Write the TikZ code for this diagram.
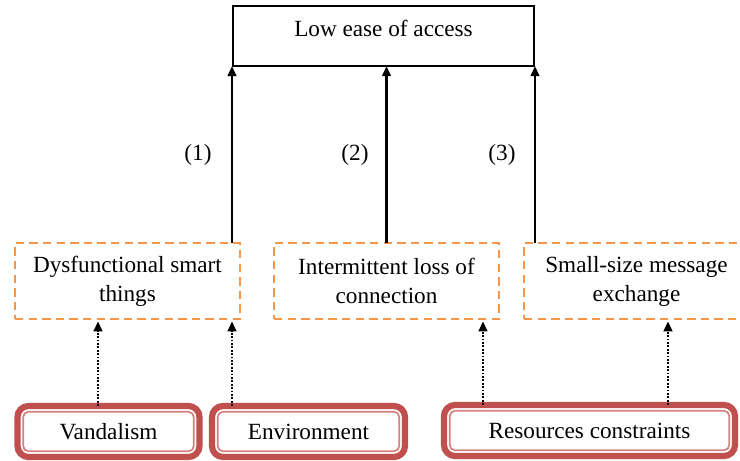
\documentclass[tikz,border=0pt]{standalone}
\usepackage{fontspec}
\setmainfont{Liberation Serif}
\usetikzlibrary{arrows.meta}
\definecolor{redc}{RGB}{192,80,77}
\definecolor{redin}{RGB}{214,128,126}
\definecolor{orangec}{RGB}{247,150,70}
\tikzset{
  txt/.style={font=\fontsize{11.6}{14.5}\selectfont, text=black, align=center, inner sep=0pt},
  goalbox/.style={txt, draw=black, line width=1.2pt, anchor=north west, outer sep=0pt,
    text height=9pt, text depth=9pt},
  causebox/.style={txt, draw=orangec, line width=1.4pt, dash pattern=on 4.2pt off 2.6pt,
    anchor=north west, outer sep=0pt, minimum width=112.5pt, minimum height=38pt},
  rootbox/.style={txt, draw=redc, line width=3.1pt, rounded corners=5.5pt, anchor=north west,
    outer sep=0pt, minimum height=25.5pt},
  rootinner/.style={draw=redin, line width=0.85pt, rounded corners=2.5pt},
  leads/.style={line width=1.2pt, -{Triangle[length=5pt,width=4.2pt]}},
  feeds/.style={line width=1.1pt, dash pattern=on 0.9pt off 0.8pt,
    -{Triangle[length=5pt,width=4.4pt]}, shorten >=1.2pt},
  num/.style={txt}
}
\begin{document}
\begin{tikzpicture}[x=0.5pt,y=-0.5pt]
  \useasboundingbox (0,0) rectangle (740,461);
  \clip (0,0) rectangle (740,461);

  % effect
  \node[goalbox, minimum width=150.5pt, minimum height=30pt] (goal) at (233,6) {Low ease of access};

  % intermediate causes
  \node[causebox] (c1) at (15,243) {Dysfunctional smart\\things};
  \node[causebox] (c2) at (274,243) {Intermittent loss of\\connection};
  \node[causebox] (c3) at (524,243) {Small-size message\\exchange};

  % root causes
  \node[rootbox, minimum width=91pt] (vand) at (17.5,406) {Vandalism};
  \node[rootbox, minimum width=96.5pt] (env) at (212,406) {Environment};
  \node[rootbox, minimum width=145.5pt] (res) at (444,405) {Resources constraints};
  \foreach \n in {vand,env,res}
    \draw[rootinner] ([shift={(5.8,5.8)}]\n.north west) rectangle ([shift={(-5.8,-5.8)}]\n.south east);

  % attachment columns
  \coordinate (xv) at (98,0);
  \coordinate (xe) at (232,0);
  \coordinate (xr1) at (483,0);
  \coordinate (xr2) at (668,0);
  \coordinate (xs1) at (232,0);
  \coordinate (xs3) at (535,0);

  % causes to effect
  \draw[leads] (c1.north -| xs1) -- (goal.south -| xs1);
  \draw[leads] (c2.north) -- (goal.south -| c2.north);
  \draw[leads] (c3.north -| xs3) -- (goal.south -| xs3);

  \node[num] (n1) at (198,155) {(1)};
  \node[num] (n2) at (355,155) {(2)};
  \node[num] (n3) at (502,155) {(3)};

  % root causes to intermediate causes
  \draw[feeds] (vand.north -| xv) -- (c1.south -| xv);
  \draw[feeds] (env.north -| xe) -- (c1.south -| xe);
  \draw[feeds] (res.north -| xr1) -- (c2.south -| xr1);
  \draw[feeds] (res.north -| xr2) -- (c3.south -| xr2);
\end{tikzpicture}
\end{document}
